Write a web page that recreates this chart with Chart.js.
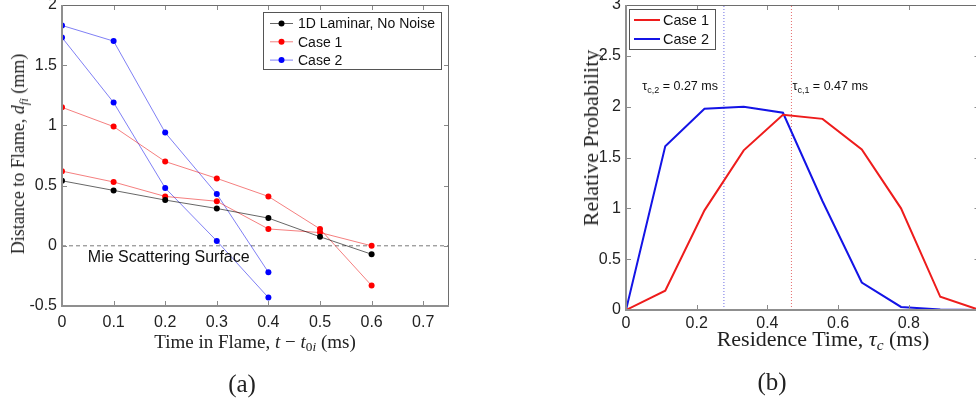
<!DOCTYPE html>
<html>
<head>
<meta charset="utf-8">
<script src="https://cdn.jsdelivr.net/npm/chart.js@4.4.1/dist/chart.umd.min.js"></script>
<style>
  html, body { margin: 0; padding: 0; background: #fff; }
  #wrap { position: relative; width: 976px; height: 404px; overflow: hidden; }
  canvas { position: absolute; top: 0; }
  #cA { left: 0; }
  #cB { left: 560px; }
  .lbl { position: absolute; font-family: "Liberation Serif", serif; color: #222; white-space: nowrap; line-height: 1; }
  .ytitle { transform: translate(-50%, -50%) rotate(-90deg); }
  .xtitle { transform: translate(-50%, -50%); }
  .lbl sub { font-size: 0.7em; vertical-align: -0.28em; line-height: 0; }
</style>
</head>
<body>
<div id="wrap">
  <canvas id="cA" width="460" height="350"></canvas>
  <canvas id="cB" width="430" height="350"></canvas>

  <div class="lbl ytitle" style="left:18px; top:154px; font-size:18px;">Distance to Flame, <i>d</i><sub><i>fi</i></sub> (mm)</div>
  <div class="lbl xtitle" style="left:255px; top:341px; font-size:19px;">Time in Flame, <i>t</i> &minus; <i>t</i><sub>0<i>i</i></sub> (ms)</div>
  <div class="lbl xtitle" style="left:242px; top:383px; font-size:25px;">(a)</div>

  <div class="lbl ytitle" style="left:591px; top:138px; font-size:22px;">Relative Probability</div>
  <div class="lbl xtitle" style="left:823px; top:339px; font-size:22px;">Residence Time, <i>&tau;</i><sub><i>c</i></sub> (ms)</div>
  <div class="lbl xtitle" style="left:772px; top:381px; font-size:25px;">(b)</div>
</div>

<script>
// ---- (a) distance to flame vs time in flame ----
var timeA = [0, 0.1, 0.2, 0.3, 0.4, 0.5, 0.6];
var laminar = [0.54, 0.46, 0.38, 0.31, 0.23, 0.075, -0.07];
var case1First = [1.15, 0.99, 0.70, 0.56, 0.41, 0.14, -0.33];
var case1Second = [0.62, 0.53, 0.41, 0.37, 0.14, 0.11, 0.0];
var timeBlue = [0, 0.1, 0.2, 0.3, 0.4];
var case2First = [1.83, 1.70, 0.94, 0.43, -0.22];
var case2Second = [1.73, 1.19, 0.48, 0.04, -0.43];
var mieX = [0, 0.75];
var mieY = [0, 0];
var xTicksA = [0, 0.1, 0.2, 0.3, 0.4, 0.5, 0.6, 0.7];
var yTicksA = [-0.5, 0, 0.5, 1, 1.5, 2];

// ---- (b) residence time distribution ----
var resTime = [0, 0.111, 0.222, 0.333, 0.444, 0.556, 0.667, 0.778, 0.889, 1.0];
var probCase1 = [0, 0.19, 0.98, 1.57, 1.92, 1.88, 1.58, 1.0, 0.13, 0];
var probCase2 = [0, 1.61, 1.98, 2.0, 1.94, 1.07, 0.27, 0.03, 0.005, 0];
var tauCase1 = 0.468;
var tauCase2 = 0.277;
var tauLabels = ['0.47 ms', '0.27 ms'];
var xTicksB = [0, 0.2, 0.4, 0.6, 0.8, 1];
var yTicksB = [0, 0.5, 1, 1.5, 2, 2.5, 3];

Chart.defaults.font.family = "'Liberation Sans', Arial, sans-serif";
Chart.defaults.font.size = 16;
Chart.defaults.color = '#222';

function pts(xs, ys) {
  return xs.map(function (v, i) { return { x: v, y: ys[i] }; });
}

// box with inward ticks, like the old matlab axes
var frame = {
  id: 'frame',
  afterDatasetsDraw: function (chart) {
    var ctx = chart.ctx, a = chart.chartArea;
    var x = chart.scales.x, y = chart.scales.y;
    ctx.save();
    ctx.strokeStyle = '#8a8a8a';
    ctx.lineWidth = 1;
    ctx.beginPath();
    x.ticks.forEach(function (t) {
      var p = Math.round(x.getPixelForValue(t.value)) + 0.5;
      ctx.moveTo(p, a.top); ctx.lineTo(p, a.top + 5);
      ctx.moveTo(p, a.bottom); ctx.lineTo(p, a.bottom - 5);
    });
    y.ticks.forEach(function (t) {
      var p = Math.round(y.getPixelForValue(t.value)) + 0.5;
      ctx.moveTo(a.left, p); ctx.lineTo(a.left + 5, p);
      ctx.moveTo(a.right, p); ctx.lineTo(a.right - 5, p);
    });
    ctx.stroke();
    ctx.strokeStyle = '#6e6e6e';
    ctx.beginPath();
    ctx.moveTo(a.left, a.top + 0.5); ctx.lineTo(a.right, a.top + 0.5);
    ctx.moveTo(a.right - 0.5, a.top); ctx.lineTo(a.right - 0.5, a.bottom);
    ctx.stroke();
    ctx.strokeStyle = '#8f8f8f';
    ctx.lineWidth = 2;
    ctx.beginPath();
    ctx.moveTo(a.left, a.top); ctx.lineTo(a.left, a.bottom);
    ctx.lineTo(a.right, a.bottom);
    ctx.stroke();
    ctx.restore();
  }
};

// legend with a border box, one row per label
var boxLegend = {
  id: 'boxLegend',
  afterDraw: function (chart, args, o) {
    var ctx = chart.ctx, a = chart.chartArea;
    var seen = {}, rows = [];
    chart.data.datasets.forEach(function (ds) {
      if (ds.label && !seen[ds.label]) { seen[ds.label] = 1; rows.push(ds); }
    });
    var left = o.side === 'right' ? a.right - o.dx - o.w : a.left + o.dx;
    var top = a.top + o.dy;
    ctx.save();
    ctx.fillStyle = '#fff';
    ctx.fillRect(left, top, o.w, o.h);
    ctx.strokeStyle = '#555';
    ctx.lineWidth = 1;
    ctx.strokeRect(Math.round(left) + 0.5, Math.round(top) + 0.5, o.w, o.h);
    ctx.font = o.font;
    ctx.textBaseline = 'middle';
    rows.forEach(function (ds, i) {
      var ry = top + o.first + i * o.rowH;
      ctx.strokeStyle = ds.borderColor;
      ctx.lineWidth = ds.borderWidth;
      ctx.beginPath();
      ctx.moveTo(left + o.lineX, ry); ctx.lineTo(left + o.lineX + o.lineW, ry);
      ctx.stroke();
      if (ds.pointRadius) {
        ctx.fillStyle = ds.pointBackgroundColor;
        ctx.beginPath();
        ctx.arc(left + o.lineX + o.lineW / 2, ry, ds.pointRadius, 0, Math.PI * 2);
        ctx.fill();
      }
      ctx.fillStyle = '#111';
      ctx.fillText(ds.label, left + o.textX, ry + 1);
    });
    ctx.restore();
  }
};

// text with subscripts placed at data coordinates
var notes = {
  id: 'notes',
  afterDatasetsDraw: function (chart, args, o) {
    var ctx = chart.ctx, x = chart.scales.x, y = chart.scales.y;
    ctx.save();
    ctx.fillStyle = '#111';
    ctx.textBaseline = 'middle';
    (o.items || []).forEach(function (it) {
      var w = 0;
      it.parts.forEach(function (p) {
        ctx.font = p.sub ? o.subFont : o.font;
        w += ctx.measureText(p.t).width;
      });
      var px = x.getPixelForValue(it.x) + (it.dx || 0);
      if (it.align === 'right') px -= w;
      var py = y.getPixelForValue(it.y);
      it.parts.forEach(function (p) {
        ctx.font = p.sub ? o.subFont : o.font;
        ctx.fillText(p.t, px, py + (p.sub ? o.subDy : 0));
        px += ctx.measureText(p.t).width;
      });
    });
    ctx.restore();
  }
};

function axes(xt, yt, xr, yr, yw, xh, xpad) {
  return {
    x: {
      type: 'linear', min: xr[0], max: xr[1],
      grid: { display: false, drawTicks: false }, border: { display: false },
      ticks: { padding: xpad, maxRotation: 0, callback: function (v) { return String(v); } },
      afterBuildTicks: function (s) { s.ticks = xt.map(function (v) { return { value: v }; }); },
      afterFit: function (s) { s.height = xh; s.paddingLeft = 0; s.paddingRight = 0; }
    },
    y: {
      type: 'linear', min: yr[0], max: yr[1],
      grid: { display: false, drawTicks: false }, border: { display: false },
      ticks: { padding: 5, callback: function (v) { return String(v); } },
      afterBuildTicks: function (s) { s.ticks = yt.map(function (v) { return { value: v }; }); },
      afterFit: function (s) { s.width = yw; s.paddingTop = 0; s.paddingBottom = 0; }
    }
  };
}

function series(label, xs, ys, line, dot) {
  return {
    label: label, data: pts(xs, ys),
    borderColor: line, borderWidth: 1,
    pointRadius: 3, pointHoverRadius: 3,
    pointBackgroundColor: dot, pointBorderColor: dot, pointBorderWidth: 0
  };
}

var blackLine = 'rgba(0,0,0,0.6)', redLine = 'rgba(235,0,0,0.5)', blueLine = 'rgba(0,0,235,0.5)';

new Chart(document.getElementById('cA'), {
  type: 'line',
  data: {
    datasets: [
      series('1D Laminar, No Noise', timeA, laminar, blackLine, '#000'),
      series('Case 1', timeA, case1First, redLine, '#ff0000'),
      series('Case 1', timeA, case1Second, redLine, '#ff0000'),
      series('Case 2', timeBlue, case2First, blueLine, '#0000ff'),
      series('Case 2', timeBlue, case2Second, blueLine, '#0000ff'),
      { label: '', data: pts(mieX, mieY), borderColor: '#7a7a7a', borderWidth: 1,
        borderDash: [4, 3], pointRadius: 0 }
    ]
  },
  options: {
    responsive: false, animation: false,
    layout: { padding: { top: 5, right: 11, left: 0, bottom: 0 } },
    scales: axes(xTicksA, yTicksA, [0, 0.75], [-0.5, 2], 62, 44, 7),
    plugins: {
      legend: { display: false }, tooltip: { enabled: false },
      boxLegend: { side: 'right', dx: 8, dy: 7, w: 178, h: 57, first: 11.5, rowH: 18.3,
        lineX: 7, lineW: 23, textX: 35, font: "14px 'Liberation Sans'" },
      notes: { font: "16px 'Liberation Sans'", subFont: "11px 'Liberation Sans'", subDy: 4,
        items: [{ x: 0.05, y: -0.1, parts: [{ t: 'Mie Scattering Surface' }] }] }
    }
  },
  plugins: [frame, notes, boxLegend]
});

new Chart(document.getElementById('cB'), {
  type: 'line',
  data: {
    datasets: [
      { label: 'Case 1', data: pts(resTime, probCase1), borderColor: '#ee1c1c', borderWidth: 2, pointRadius: 0 },
      { label: 'Case 2', data: pts(resTime, probCase2), borderColor: '#1414e6', borderWidth: 2, pointRadius: 0 },
      { data: pts([tauCase1, tauCase1], [0, 3]), borderColor: 'rgba(220,60,60,0.75)', borderWidth: 1,
        borderDash: [1, 2], pointRadius: 0 },
      { data: pts([tauCase2, tauCase2], [0, 3]), borderColor: 'rgba(60,60,220,0.75)', borderWidth: 1,
        borderDash: [1, 2], pointRadius: 0 }
    ]
  },
  options: {
    responsive: false, animation: false,
    layout: { padding: { top: 5, right: 10.5, left: 0, bottom: 0 } },
    scales: axes(xTicksB, yTicksB, [0, 1], [0, 3], 66, 40, 4),
    plugins: {
      legend: { display: false }, tooltip: { enabled: false },
      boxLegend: { side: 'left', dx: 3, dy: 4, w: 86, h: 40, first: 11, rowH: 19,
        lineX: 5, lineW: 26, textX: 34, font: "14.5px 'Liberation Sans'" },
      notes: { font: "12.5px 'Liberation Sans'", subFont: "9px 'Liberation Sans'", subDy: 4,
        items: [
          { x: tauCase2, y: 2.2, dx: -6, align: 'right', parts: [{ t: '\u03c4' }, { t: 'c,2', sub: true }, { t: ' = ' + tauLabels[1] }] },
          { x: tauCase1, y: 2.2, dx: 1, parts: [{ t: '\u03c4' }, { t: 'c,1', sub: true }, { t: ' = ' + tauLabels[0] }] }
        ] }
    }
  },
  plugins: [frame, notes, boxLegend]
});
</script>
</body>
</html>
